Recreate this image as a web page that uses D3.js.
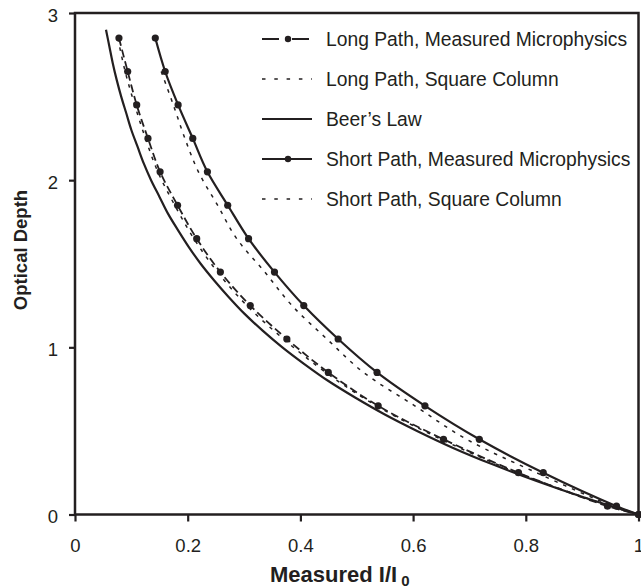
<!DOCTYPE html>
<html>
<head>
<meta charset="utf-8">
<script src="https://cdn.jsdelivr.net/npm/d3@7"></script>
<style>
  html, body { margin: 0; padding: 0; background: #fff; }
  svg { display: block; }
  text { font-family: "Liberation Sans", Arial, sans-serif; fill: #231f20; }
</style>
</head>
<body>
<svg id="chart" width="641" height="588"></svg>
<script>
// ---------- data ----------
const xTicks = [0, 0.2, 0.4, 0.6, 0.8, 1];
const xTickLabels = ["0", "0.2", "0.4", "0.6", "0.8", "1"];
const yTicks = [0, 1, 2, 3];
const yTickLabels = ["0", "1", "2", "3"];

const measuredDepth = [2.85, 2.65, 2.45, 2.25, 2.05, 1.85, 1.65, 1.45, 1.25, 1.05, 0.85, 0.65, 0.45, 0.25, 0.05, 0];
const longMeasured  = [0.078, 0.0935, 0.1095, 0.1295, 0.151, 0.182, 0.216, 0.258, 0.311, 0.376, 0.4495, 0.538, 0.654, 0.787, 0.945, 1.0];
const shortMeasured = [0.1425, 0.160, 0.183, 0.209, 0.235, 0.271, 0.308, 0.354, 0.406, 0.467, 0.536, 0.621, 0.7175, 0.831, 0.961, 1.0];

const longSquareDepth = [2.85, 2.65, 2.45, 2.25, 2.05, 1.85, 1.65, 1.45, 1.25, 1.05, 0.85, 0.65, 0.45, 0.25, 0.05, 0];
const longSquare      = [0.076, 0.089, 0.106, 0.125, 0.147, 0.177, 0.211, 0.253, 0.305, 0.37, 0.445, 0.535, 0.65, 0.785, 0.95, 1.0];

const shortSquareDepth = [2.65, 2.45, 2.25, 2.05, 1.85, 1.65, 1.45, 1.25, 1.05, 0.85, 0.65, 0.45, 0.25, 0.05, 0];
const shortSquare      = [0.153, 0.1745, 0.195, 0.219, 0.253, 0.287, 0.337, 0.385, 0.447, 0.512, 0.603, 0.695, 0.819, 0.955, 1.0];

const beerDepth = [0, 0.1, 0.2, 0.3, 0.4, 0.5, 0.6, 0.7, 0.8, 0.9, 1.0, 1.1, 1.2, 1.3, 1.4, 1.5, 1.6, 1.7, 1.8, 1.9, 2.0, 2.1, 2.2, 2.3, 2.4, 2.5, 2.6, 2.7, 2.8, 2.9];
const beerI     = [1, 0.905, 0.819, 0.741, 0.670, 0.607, 0.549, 0.497, 0.449, 0.407, 0.368, 0.333, 0.301, 0.273, 0.247, 0.223, 0.202, 0.183, 0.165, 0.150, 0.135, 0.122, 0.111, 0.100, 0.091, 0.082, 0.074, 0.067, 0.061, 0.055];

const legendLabels = ["Long Path, Measured Microphysics", "Long Path, Square Column", "Beer\u2019s Law", "Short Path, Measured Microphysics", "Short Path, Square Column"];

// ---------- layout ----------
const svg = d3.select("#chart");
const plotL = 75, plotR = 638.5, plotT = 13, plotB = 514.5;
const x = d3.scaleLinear().domain([0, 1]).range([plotL, plotR]);
const y = d3.scaleLinear().domain([0, 3]).range([plotB, plotT]);
const ink = "#231f20";

const zip = (xs, ys) => xs.map((v, i) => [v, ys[i]]);
const line = d3.line().x(d => x(d[0])).y(d => y(d[1])).curve(d3.curveCatmullRom.alpha(0.5));

const series = [
  { xs: beerI, ys: beerDepth, dash: null, w: 2.2, dots: false },
  { xs: longSquare, ys: longSquareDepth, dash: "3.5,6", w: 1.5, dots: false },
  { xs: shortSquare, ys: shortSquareDepth, dash: "3.5,6", w: 1.5, dots: false },
  { xs: longMeasured, ys: measuredDepth, dash: "8,4", w: 1.8, dots: true },
  { xs: shortMeasured, ys: measuredDepth, dash: null, w: 2.2, dots: true }
];

const g = svg.append("g");
series.forEach(s => {
  const pts = zip(s.xs, s.ys);
  g.append("path").attr("d", line(pts)).attr("fill", "none")
    .attr("stroke", ink).attr("stroke-width", s.w)
    .attr("stroke-dasharray", s.dash);
  if (s.dots) {
    g.selectAll(null).data(pts).enter().append("circle")
      .attr("cx", d => x(d[0])).attr("cy", d => y(d[1])).attr("r", 3.6).attr("fill", ink);
  }
});

// ---------- axes ----------
const xAxis = d3.axisBottom(x).tickValues(xTicks).tickFormat((d, i) => xTickLabels[i]).tickSize(7).tickPadding(17);
const yAxis = d3.axisLeft(y).tickValues(yTicks).tickFormat((d, i) => yTickLabels[i]).tickSize(6).tickPadding(11);

const gx = svg.append("g").attr("transform", `translate(0,${plotB})`).call(xAxis);
const gy = svg.append("g").attr("transform", `translate(${plotL},0)`).call(yAxis);
[gx, gy].forEach(a => {
  a.select(".domain").remove();
  a.selectAll(".tick line").attr("stroke", ink).attr("stroke-width", 2.2);
  a.selectAll(".tick text").attr("font-size", 18.5).attr("fill", ink)
    .style("font-family", "'Liberation Sans', Arial, sans-serif");
});
gy.selectAll(".tick text").attr("dy", "0.45em");

// frame
svg.append("rect").attr("x", plotL).attr("y", plotT).attr("width", plotR - plotL).attr("height", plotB - plotT)
  .attr("fill", "none").attr("stroke", ink).attr("stroke-width", 2.5);

// axis titles
const xt = svg.append("text").attr("x", 270).attr("y", 582)
  .attr("text-anchor", "start").attr("font-size", 22).attr("font-weight", "bold");
xt.append("tspan").text("Measured I/I");
xt.append("tspan").attr("dy", 4).attr("dx", 4).attr("font-size", 15).text("0");

svg.append("text").attr("transform", `translate(27,250) rotate(-90)`)
  .attr("text-anchor", "middle").attr("font-size", 18.5).attr("font-weight", "bold").text("Optical Depth");

// ---------- legend ----------
const legendStyles = [
  { dash: "17,13", w: 1.8, dot: true },
  { dash: "3.5,8.8", w: 1.5, dot: false },
  { dash: null, w: 2.2, dot: false },
  { dash: null, w: 2.2, dot: true },
  { dash: "3.5,8.8", w: 1.5, dot: false }
];
const lg = svg.append("g");
legendLabels.forEach((lab, i) => {
  const cy = 39 + i * 40;
  const st = legendStyles[i];
  lg.append("line").attr("x1", 262).attr("x2", 312).attr("y1", cy).attr("y2", cy)
    .attr("stroke", ink).attr("stroke-width", st.w).attr("stroke-dasharray", st.dash);
  if (st.dot) lg.append("circle").attr("cx", 288).attr("cy", cy).attr("r", 3.2).attr("fill", ink);
  lg.append("text").attr("x", 326).attr("y", cy + 7).attr("font-size", 19.3).text(lab);
});
</script>
</body>
</html>
